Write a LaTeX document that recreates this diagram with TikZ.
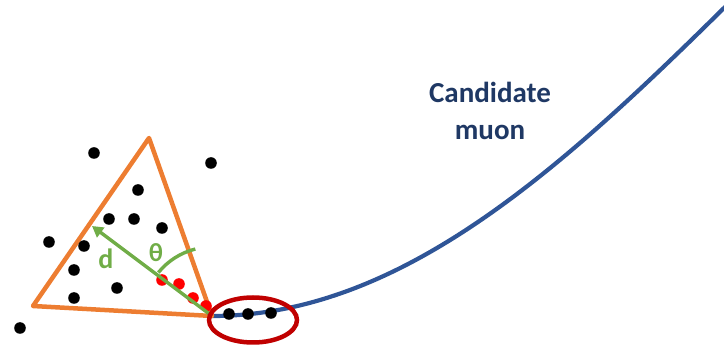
\documentclass[tikz,border=0pt]{standalone}
\usepackage{fontspec}
\setmainfont{Carlito}
\usetikzlibrary{arrows.meta,positioning,shapes.geometric}

\definecolor{conecol}{RGB}{237,125,49}
\definecolor{trackcol}{RGB}{47,85,151}
\definecolor{labelcol}{RGB}{31,56,100}
\definecolor{anglecol}{RGB}{112,173,71}
\definecolor{ringcol}{RGB}{192,0,0}

\tikzset{
	hit/.style={fill=black},
	redhit/.style={fill=red},
}

\begin{document}
\begin{tikzpicture}[x=1pt,y=-1pt]
	\useasboundingbox (0,0) rectangle (724,347);
	
	\coordinate (apex) at (149,138);
	\coordinate (left) at (33,306);
	\coordinate (vertex) at (212,316);
	\coordinate (foot) at (92,226);
	\coordinate (end) at (726,6);
	
	\draw[trackcol, line width=4.2pt] (vertex) .. controls (400,316) and (560,170) .. (end);
	
	\draw[conecol, line width=4.5pt, line join=round] (apex) -- (left) -- (vertex) -- cycle;
	
	\foreach \x/\y in {94/153, 211/163, 138/190, 109/219, 134/219, 162/228,
		49/242, 84/246, 74/270, 117/288, 74/298, 20/328,
		229/314, 248/314, 271/313}
		\fill[hit] (\x,\y) circle (5.8);
	
	\foreach \x/\y in {162/280, 179/284, 193/298, 206/306}
		\fill[redhit] (\x,\y) circle (5.8);
	
	\draw[anglecol, line width=3.4pt, -{Triangle[length=11pt,width=12pt]}] (vertex) -- (foot);
	\draw[anglecol, line width=3.4pt] (vertex) ++(141:69pt) arc[start angle=141, end angle=104, radius=69pt];
	
	\node[anglecol, font=\bfseries\fontsize{28}{28}\selectfont] (dlabel) at (106,259) {d};
	\node[anglecol, font=\bfseries\fontsize{26}{26}\selectfont] (thlabel) at (156,253) {θ};
	
	\node[ellipse, draw=ringcol, line width=4.5pt, minimum width=88pt, minimum height=45pt] (ring) at (253,320) {};
	
	\node[labelcol, font=\bfseries\fontsize{29}{37}\selectfont, align=center] (muon) at (490,111) {Candidate\\muon};
	
\end{tikzpicture}
\end{document}
